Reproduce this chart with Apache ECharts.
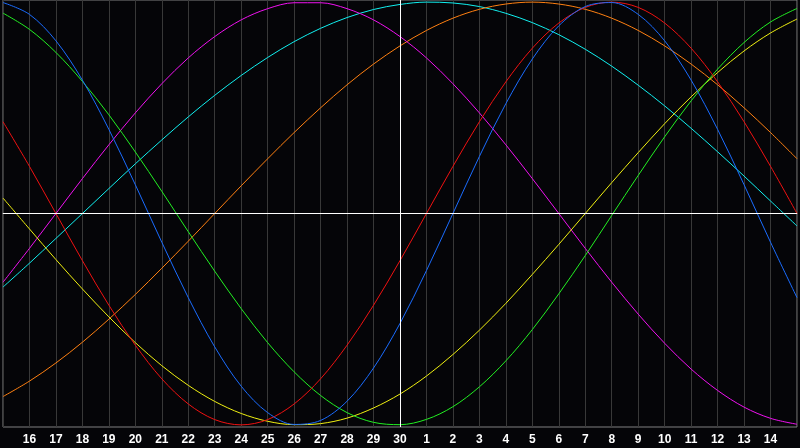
<!DOCTYPE html>
<html>
<head>
<meta charset="utf-8">
<script src="https://cdn.jsdelivr.net/npm/echarts@6/dist/echarts.min.js"></script>
<style>
html,body{margin:0;padding:0;background:#050508;}
#chart{width:800px;height:448px;}
</style>
</head>
<body>
<div id="chart"></div>
<script>
var days = ['15','16','17','18','19','20','21','22','23','24','25','26','27','28','29','30','1','2','3','4','5','6','7','8','9','10','11','12','13','14','15'];
var today = '30';
var physical = [99.8,94.2,81.7,63.1,39.8,13.6,-13.6,-39.8,-63.1,-81.7,-94.2,-99.8,-97.9,-88.8,-73.1,-52.0,-27.0,0,27.0,52.0,73.1,88.8,97.9,99.8,94.2,81.7,63.1,39.8,13.6,-13.6,-39.8];
var emotional = [43.4,22.3,0,-22.3,-43.4,-62.3,-78.2,-90.1,-97.5,-100,-97.5,-90.1,-78.2,-62.3,-43.4,-22.3,0,22.3,43.4,62.3,78.2,90.1,97.5,100,97.5,90.1,78.2,62.3,43.4,22.3,0];
var intellectual = [94.8,87.1,76.2,62.5,46.7,29.1,10.5,-8.6,-27.3,-45.0,-61.1,-74.9,-86.1,-94.2,-98.8,-99.9,-97.4,-91.4,-82.0,-69.7,-54.9,-38.0,-19.9,-0.9,18.0,36.3,53.3,68.3,80.9,90.6,97.0];
var intuitive = [-32.5,-16.5,0,16.5,32.5,47.6,61.4,73.6,83.7,91.6,96.9,99.7,99.7,96.9,91.6,83.7,73.6,61.4,47.6,32.5,16.5,0,-16.5,-32.5,-47.6,-61.4,-73.6,-83.7,-91.6,-96.9,-99.7];
var aesthetic = [7.3,-7.3,-21.8,-35.7,-48.9,-61.1,-72.0,-81.3,-88.9,-94.6,-98.3,-99.9,-99.4,-96.8,-92.0,-85.4,-76.9,-66.7,-55.2,-42.5,-28.8,-14.6,0,14.6,28.8,42.5,55.2,66.7,76.9,85.4,92.0];
var awareness = [-86.6,-79.3,-70.7,-60.9,-50,-38.3,-25.9,-13.1,0,13.1,25.9,38.3,50,60.9,70.7,79.3,86.6,92.4,96.6,99.1,100,99.1,96.6,92.4,86.6,79.3,70.7,60.9,50,38.3,25.9];
var spiritual = [-34.8,-23.5,-11.8,0,11.8,23.5,34.8,45.7,55.9,65.3,73.8,81.3,87.6,92.7,96.5,98.9,100,99.6,97.9,94.7,90.3,84.6,77.7,69.7,60.7,50.9,40.3,29.2,17.7,5.9,-5.9];

function mk(name, data, color) {
  return {
    name: name, type: 'line', data: data, smooth: 0.33, showSymbol: false,
    lineStyle: {width: 1, color: color}, itemStyle: {color: color}, silent: true
  };
}
var series = [
  mk('Spiritual', spiritual, '#11f0f0'),
  mk('Awareness', awareness, '#ff8011'),
  mk('Intuitive', intuitive, '#f011f0'),
  mk('Aesthetic', aesthetic, '#f0f011'),
  mk('Intellectual', intellectual, '#22f022'),
  mk('Emotional', emotional, '#f01111'),
  mk('Physical', physical, '#1a6cff')
];
series[0].markLine = {
  silent: true, symbol: 'none', label: {show: false}, animation: false,
  lineStyle: {color: '#ffffff', width: 1, type: 'solid'},
  data: [{yAxis: 0}, {xAxis: today}]
};

var chart = echarts.init(document.getElementById('chart'), null, {renderer: 'canvas'});
chart.setOption({
  backgroundColor: '#050508',
  animation: false,
  grid: {left: 0, right: 0, top: 0, bottom: 21, show: true, borderColor: '#808080', borderWidth: 1, backgroundColor: 'transparent'},
  xAxis: {
    type: 'category', data: days, boundaryGap: false,
    axisLine: {show: true, lineStyle: {color: '#a0a0a0', width: 1}},
    axisTick: {show: false},
    splitLine: {show: true, interval: 0, lineStyle: {color: '#383838', width: 1}},
    axisLabel: {
      interval: 0, color: '#ffffff', fontFamily: 'Liberation Sans', fontWeight: 'bold', fontSize: 12, margin: 7,
      formatter: function (v, i) { return (i === 0 || i === days.length - 1) ? '' : v; }
    }
  },
  yAxis: {type: 'value', min: -101, max: 101, show: false, splitLine: {show: false}},
  series: series
});
</script>
</body>
</html>
